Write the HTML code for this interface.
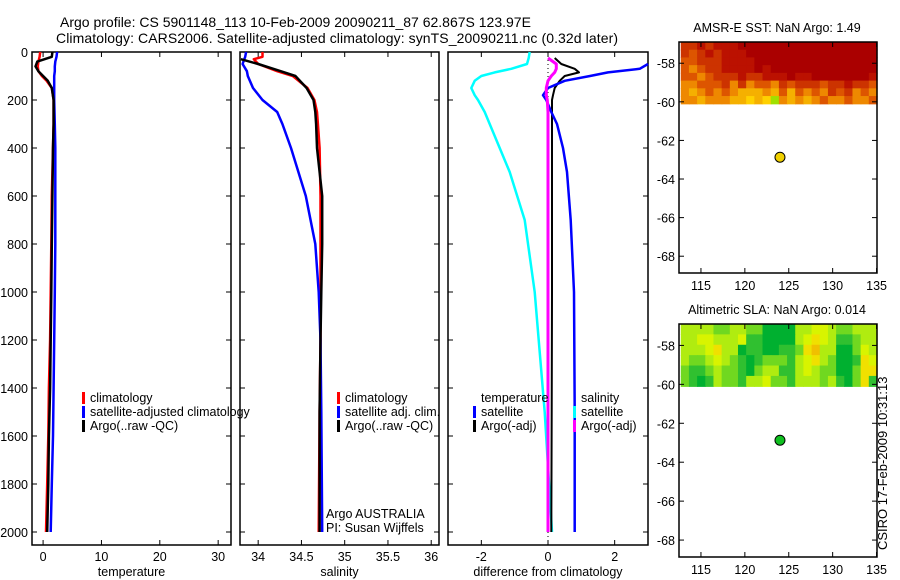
<!DOCTYPE html>
<html><head><meta charset="utf-8">
<style>
html,body{margin:0;padding:0;background:#fff;}
svg{display:block;font-family:"Liberation Sans",sans-serif;}
text{font-size:12.5px;fill:#000;}
</style></head>
<body>
<svg id="fig" width="900" height="580" viewBox="0 0 900 580" xmlns="http://www.w3.org/2000/svg">
<text x="60" y="27" style="font-size:14px">Argo profile: CS 5901148_113 10-Feb-2009 20090211_87 62.867S 123.97E</text>
<text x="56" y="43" style="font-size:14px" textLength="562">Climatology: CARS2006. Satellite-adjusted climatology: synTS_20090211.nc (0.32d later)</text>
<g id="plots"></g>
<text x="887" y="550" transform="rotate(-90 887 550)" style="font-size:13px">CSIRO 17-Feb-2009 10:31:13</text>
</svg>
<script>
// ---- depth profile data ----
const tDepth=[0,20,40,60,80,100,120,150,200,300,400,600,800,1000,1200,1400,1600,1800,2000];
const tClim=[-0.5,-0.6,-0.8,-0.9,-0.8,-0.2,0.6,1.5,1.8,1.8,1.7,1.5,1.4,1.3,1.2,1.0,0.9,0.7,0.5];
const tSat=[2.4,2.3,2.1,2.0,2.0,1.9,1.9,1.9,1.9,2.0,2.1,2.1,2.1,2.0,1.9,1.8,1.7,1.5,1.3];
const tArgo=[1.6,1.5,-1.0,-1.3,-0.8,0.0,0.8,1.5,1.8,1.8,1.7,1.6,1.5,1.4,1.3,1.2,1.0,0.9,0.7];

const sDepth=[0,20,30,50,80,100,150,200,250,300,400,600,800,1000,1200,1500,2000];
const sClim=[34.05,34.05,33.95,34.0,34.22,34.4,34.57,34.65,34.68,34.69,34.71,34.72,34.72,34.72,34.72,34.71,34.7];
const sSat=[33.86,33.85,33.84,33.82,33.87,33.88,33.94,34.05,34.22,34.28,34.38,34.55,34.66,34.7,34.72,34.73,34.74];
const sArgo=[null,null,33.8,34.0,34.26,34.43,34.56,34.64,34.66,34.67,34.68,34.74,34.74,34.73,34.72,34.71,34.71];

const dDepth=[0,25,50,70,85,100,120,150,180,200,250,300,400,500,700,1000,1500,2000];
const dTempSat=[-0.55,-0.58,-0.63,-1.1,-1.6,-2.0,-2.2,-2.3,-2.2,-2.1,-1.9,-1.75,-1.45,-1.15,-0.7,-0.4,-0.1,0.12];
const dTempArgo=[null,0.2,0.4,0.8,0.93,0.5,0.35,0.2,0.15,0.12,0.12,0.12,0.12,0.12,0.12,0.12,0.11,0.1];
const dSalSat=[null,null,3.0,2.75,1.8,1.26,0.5,0.0,-0.15,-0.05,0.1,0.27,0.45,0.57,0.68,0.78,0.8,0.8];
const dSalArgo=[null,0.0,0.25,0.25,0.2,0.1,0.0,-0.05,-0.05,-0.02,0.0,0.0,0.0,0.0,0.0,0.0,0.0,0.0];

const depthTicks=[0,200,400,600,800,1000,1200,1400,1600,1800,2000];
const tempTicks=[0,10,20,30];
const salTicks=[34,34.5,35,35.5,36];
const diffTicks=[-2,0,2];
const lonTicks=[115,120,125,130,135];
const latTicks=[-58,-60,-62,-64,-66,-68];

const argoLon=124.0, argoLat=-62.87;
const sstGrid=["221211100000000000000000","232121110000000000000000","332221111000000000000000","343221111010000000000000","334322212211101100000001","443332424334232223221223","454343455545353434232434","445444556567454543443443"];
const slaGrid=["333322332200003344322333","334433341100003454311233","333453301100112563300243","322343210122213453200154","211232210233113432200255","210132213342213332310251"];
const sstColors=["#aa0000","#bb1100","#cc3300","#dd5500","#ee8800","#f5b000","#ffd000","#a0e000"];
const slaColors=["#00b030","#30c030","#70d820","#b0ec10","#d8f400","#f0e000","#f0c000"];

const NS="http://www.w3.org/2000/svg";
const root=document.getElementById('plots');
function mk(tag,attrs,parent){const e=document.createElementNS(NS,tag);for(const k in attrs)e.setAttribute(k,attrs[k]);(parent||root).appendChild(e);return e;}
function txt(x,y,s,anchor,parent){const e=mk('text',{x:x,y:y,'text-anchor':anchor||'start'},parent);e.textContent=s;return e;}

const yD=d=>52+d*0.24;
const TOP=52,BOT=545;

function panel(name,x0,x1,dmin,dmax,ticks,xlabel,showY){
  const g=mk('g',{});
  
  
  const sx=v=>x0+(v-dmin)/(dmax-dmin)*(x1-x0);
  const fr=mk('rect',{x:x0,y:TOP,width:x1-x0,height:BOT-TOP,fill:'none',stroke:'#000','stroke-width':1.5},g);
  
  
  depthTicks.forEach(d=>{
    mk('line',{x1:x0,x2:x0+5,y1:yD(d),y2:yD(d),stroke:'#000'},g);
    mk('line',{x1:x1-5,x2:x1,y1:yD(d),y2:yD(d),stroke:'#000'},g);
    if(showY){const t=txt(x0-4,yD(d)+5,String(d),'end',g);
      
      }
  });
  ticks.forEach(v=>{
    mk('line',{x1:sx(v),x2:sx(v),y1:BOT,y2:BOT-5,stroke:'#000'},g);
    mk('line',{x1:sx(v),x2:sx(v),y1:TOP,y2:TOP+5,stroke:'#000'},g);
    const t=txt(sx(v),561,String(v),'middle',g);
    
    
  });
  const xl=txt((x0+x1)/2,576,xlabel,'middle',g);
  
  
  return {g,sx};
}
function line(p,depths,vals,color,name,w){
  let d='',pen=false;
  depths.forEach((dp,i)=>{const v=vals[i];if(v===null||v===undefined){pen=false;return;}
    d+=(pen?'L':'M')+p.sx(v).toFixed(1)+' '+yD(dp).toFixed(1)+' ';pen=true;});
  const e=mk('path',{d:d,fill:'none',stroke:color,'stroke-width':w||2.5,'stroke-linejoin':'round'},p.g);
  
  
}
function legend(p,x,y,color,label,name){
  const m=mk('rect',{x:x,y:y-10,width:3,height:12,fill:color},p.g);
  
  
  const t=txt(x+8,y,label,'start',p.g);
  
  
}

// panel 1 temperature
const p1=panel('temperature-panel',32,231,-1.9,32.2,tempTicks,'temperature',true);
line(p1,tDepth,tClim,'#ff0000','temp-climatology-line');
line(p1,tDepth,tSat,'#0000ff','temp-satellite-line');
line(p1,tDepth,tArgo,'#000000','temp-argo-line');
legend(p1,82,402,'#ff0000','climatology','legend-climatology');
legend(p1,82,416,'#0000ff','satellite-adjusted climatology','legend-satellite');
legend(p1,82,430,'#000000','Argo(..raw -QC)','legend-argo');

// panel 2 salinity
const p2=panel('salinity-panel',240,439,33.79,36.09,salTicks,'salinity',false);
line(p2,sDepth,sClim,'#ff0000','sal-climatology-line');
line(p2,sDepth,sSat,'#0000ff','sal-satellite-line');
line(p2,sDepth,sArgo,'#000000','sal-argo-line');
legend(p2,337,402,'#ff0000','climatology','legend-sal-climatology');
legend(p2,337,416,'#0000ff','satellite adj. clim.','legend-sal-satellite');
legend(p2,337,430,'#000000','Argo(..raw -QC)','legend-sal-argo');
const a1=txt(326,518,'Argo AUSTRALIA','start',p2.g);


const a2=txt(326,532,'PI: Susan Wijffels','start',p2.g);



// panel 3 difference
const p3=panel('difference-panel',448,648,-3.0,3.0,diffTicks,'difference from climatology',false);
mk('line',{x1:p3.sx(0),x2:p3.sx(0),y1:TOP,y2:BOT,stroke:'#000','stroke-dasharray':'1 3'},p3.g);
line(p3,dDepth,dTempSat,'#00ffff','diff-temp-satellite-line');
line(p3,dDepth,dTempArgo,'#000000','diff-temp-argo-line',2);
line(p3,dDepth,dSalSat,'#0000ff','diff-sal-satellite-line');
line(p3,dDepth,dSalArgo,'#ff00ff','diff-sal-argo-line',3);
const lt=txt(481,402,'temperature','start',p3.g);


legend(p3,473,416,'#0000ff','satellite','legend-diff-temp-satellite');
legend(p3,473,430,'#000000','Argo(-adj)','legend-diff-temp-argo');
const ls=txt(581,402,'salinity','start',p3.g);


legend(p3,573,416,'#00ffff','satellite','legend-diff-sal-satellite');
legend(p3,573,430,'#ff00ff','Argo(-adj)','legend-diff-sal-argo');

// maps
function map(name,top,bot,title,grid,colors,dotColor){
  const g=mk('g',{});
  
  
  const x0=679,x1=877,lonMin=112.5,lonMax=135.05;
  const latTop=-56.9,latBot=-68.87;
  const sx=v=>x0+(v-lonMin)/(lonMax-lonMin)*(x1-x0);
  const sy=v=>top+(latTop-v)/(latTop-latBot)*(bot-top);
  const gx0=sx(112.7),gx1=sx(135.05),gy0=top,gy1=sy(-60.1);
  const rows=grid.length,cols=grid[0].length;
  const cw=(gx1-gx0)/cols,ch=(gy1-gy0)/rows;
  grid.forEach((row,r)=>{for(let c=0;c<cols;c++){
    const cell=mk('rect',{x:(gx0+c*cw).toFixed(2),y:(gy0+r*ch).toFixed(2),width:(cw+0.6).toFixed(2),height:(ch+0.6).toFixed(2),fill:colors[+row[c]]},g);
    
    
  }});
  mk('rect',{x:x0,y:top,width:x1-x0,height:bot-top,fill:'none',stroke:'#000','stroke-width':1.5},g);
  latTicks.forEach(v=>{
    mk('line',{x1:x0,x2:x0+5,y1:sy(v),y2:sy(v),stroke:'#000'},g);
    mk('line',{x1:x1-5,x2:x1,y1:sy(v),y2:sy(v),stroke:'#000'},g);
    const t=txt(x0-4,sy(v)+5,String(v),'end',g);
    
    
  });
  lonTicks.forEach(v=>{
    mk('line',{x1:sx(v),x2:sx(v),y1:bot,y2:bot-5,stroke:'#000'},g);
    mk('line',{x1:sx(v),x2:sx(v),y1:top,y2:top+5,stroke:'#000'},g);
    const t=txt(sx(v),bot+17,String(v),'middle',g);
    
    
  });
  const tt=txt(777,top-10,title,'middle',g);
  
  
  const dot=mk('circle',{cx:sx(argoLon),cy:sy(argoLat),r:5,fill:dotColor,stroke:'#000','stroke-width':1},g);
  
  
}
map('sst-map',42,273,'AMSR-E SST: NaN Argo: 1.49',sstGrid,sstColors,'#f0d000');
map('sla-map',324,557,'Altimetric SLA: NaN Argo: 0.014',slaGrid,slaColors,'#10c020');
</script>
</body></html>
